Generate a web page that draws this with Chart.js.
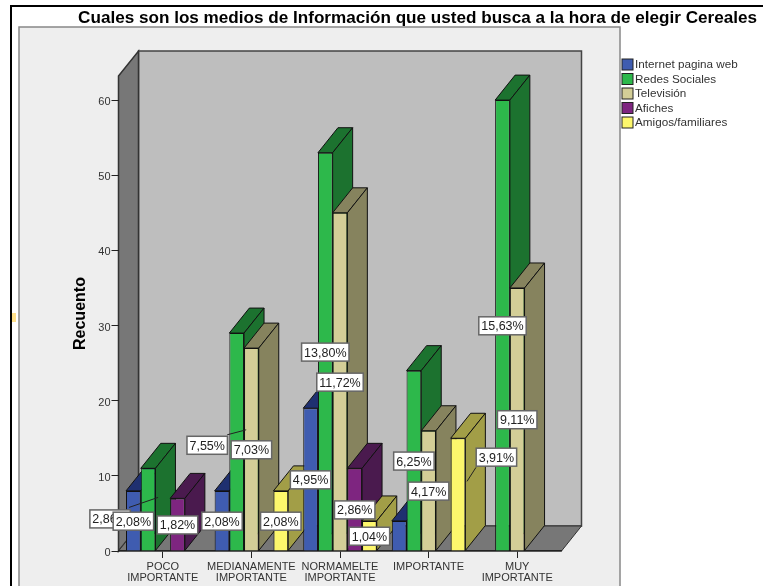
<!DOCTYPE html>
<html>
<head>
<meta charset="utf-8">
<script src="https://cdn.jsdelivr.net/npm/chart.js@4"></script>
<style>
    html, body { margin: 0; padding: 0; background: #fff; overflow: hidden; }
    canvas { display: block; }
</style>
</head>
<body>
<canvas id="chart-canvas" width="763" height="586"></canvas>
<script>
const categories = [['POCO', 'IMPORTANTE'], ['MEDIANAMENTE', 'IMPORTANTE'], ['NORMAMELTE', 'IMPORTANTE'], 'IMPORTANTE', ['MUY', 'IMPORTANTE']];
const seriesNames = ['Internet pagina web', 'Redes Sociales', 'Televisión', 'Afiches', 'Amigos/familiares'];

const internetValues = [8, 8, 19, 4, null];
const redesValues = [11, 29, 53, 24, 60];
const televisionValues = [null, 27, 45, 16, 35];
const afichesValues = [7, null, 11, null, null];
const amigosValues = [null, 8, 4, 15, null];

// percent boxes, same order as the values above
const internetPct = ['2,08%', '2,08%', '4,95%', null, null];
const redesPct = ['2,86%', '7,55%', '13,80%', '6,25%', '15,63%'];
const televisionPct = [null, '7,03%', '11,72%', '4,17%', '9,11%'];
const afichesPct = ['1,82%', null, '2,86%', null, null];
const amigosPct = [null, '2,08%', '1,04%', '3,91%', null];

const frontColors = ['#3F5CB0', '#2DB84B', '#D3CE97', '#7E2580', '#FDF76C'];
const sideColors = ['#1F3070', '#1C722F', '#86835E', '#4A1A4E', '#A29E47'];

const yTicks = [0, 10, 20, 30, 40, 50, 60];

const allValues = [internetValues, redesValues, televisionValues, afichesValues, amigosValues];
const allPct = [internetPct, redesPct, televisionPct, afichesPct, amigosPct];

// depth of the fake 3D box, pixels
const DEPTH_X = 20;
const DEPTH_Y = -25;
const FONT = '"Liberation Sans", Arial, sans-serif';

// boxes that SPSS moved away from the bar centre (key is series:category)
const movedLabels = {
    '1:0': { dx: -38, dy: 9, lead: [-19, -2, 10, -12] },
    '1:1': { dx: -29.5, dy: 3, lead: [-9.5, -7, 9.5, -12] },
    '4:3': { dx: 38.4, dy: -37.7, lead: [18, -27, 9, -13] }
};

function polygon(ctx, pts, fill, stroke, width) {
    ctx.beginPath();
    pts.forEach((p, i) => i ? ctx.lineTo(p[0], p[1]) : ctx.moveTo(p[0], p[1]));
    ctx.closePath();
    ctx.fillStyle = fill;
    ctx.fill();
    ctx.strokeStyle = stroke;
    ctx.lineWidth = width;
    ctx.stroke();
}

const box3d = {
    id: 'box3d',
    afterLayout(chart) {
        // title runs past the plot, up to the right edge of the picture
        chart.titleBlock.left = 0;
        chart.titleBlock.right = 757;
    },
    beforeDraw(chart) {
        const ctx = chart.ctx;
        const { left, right, top, bottom } = chart.chartArea;
        ctx.save();
        ctx.fillStyle = '#fff';
        ctx.fillRect(0, 0, chart.width, chart.height);

        // outer frame
        ctx.fillStyle = '#000';
        ctx.fillRect(10, 5, chart.width - 10, 2);
        ctx.fillRect(10, 5, 2, chart.height - 5);

        // small yellow mark on the frame, it is in the screenshot
        ctx.fillStyle = '#FFE08A';
        ctx.fillRect(12, 313, 4, 9);

        // grey panel, runs off the bottom of the picture
        ctx.fillStyle = '#EEEEEE';
        ctx.fillRect(19, 27, 601, chart.height);
        ctx.strokeStyle = '#888';
        ctx.lineWidth = 1.5;
        ctx.strokeRect(19, 27, 601, chart.height);

        // back wall, left wall and floor
        polygon(ctx, [[left + DEPTH_X, top + DEPTH_Y], [right + DEPTH_X, top + DEPTH_Y], [right + DEPTH_X, bottom + DEPTH_Y], [left + DEPTH_X, bottom + DEPTH_Y]], '#BEBEBE', '#444', 1.5);
        polygon(ctx, [[left, top], [left + DEPTH_X, top + DEPTH_Y], [left + DEPTH_X, bottom + DEPTH_Y], [left, bottom]], '#777777', '#333', 1.5);
        polygon(ctx, [[left, bottom], [left + DEPTH_X, bottom + DEPTH_Y], [right + DEPTH_X, bottom + DEPTH_Y], [right, bottom]], '#777777', '#333', 1);
        ctx.restore();
    },
    beforeDatasetsDraw(chart) {
        const ctx = chart.ctx;
        ctx.save();
        // paint left to right so each bar hides the side of the one before
        categories.forEach((cat, c) => {
            chart.data.datasets.forEach((ds, s) => {
                if (ds.data[c] === null) return;
                const el = chart.getDatasetMeta(s).data[c];
                const x0 = el.x - el.width / 2;
                const x1 = el.x + el.width / 2;
                polygon(ctx, [[x0, el.y], [x0 + DEPTH_X, el.y + DEPTH_Y], [x1 + DEPTH_X, el.y + DEPTH_Y], [x1, el.y]], sideColors[s], '#111', 1);
                polygon(ctx, [[x1, el.y], [x1 + DEPTH_X, el.y + DEPTH_Y], [x1 + DEPTH_X, el.base + DEPTH_Y], [x1, el.base]], sideColors[s], '#111', 1);
                el.draw(ctx);
            });
        });
        ctx.restore();
        return false;
    },
    afterDraw(chart) {
        const ctx = chart.ctx;
        ctx.save();
        ctx.font = '12.5px ' + FONT;
        ctx.textAlign = 'center';
        ctx.textBaseline = 'middle';
        categories.forEach((cat, c) => {
            for (let s = allPct.length - 1; s >= 0; s--) {
                const text = allPct[s][c];
                if (!text) continue;
                const center = chart.getDatasetMeta(s).data[c].getCenterPoint();
                const moved = movedLabels[s + ':' + c];
                const cx = center.x + (moved ? moved.dx : 0);
                const cy = center.y + 0.5 + (moved ? moved.dy : 0);
                if (moved) {
                    ctx.strokeStyle = '#222';
                    ctx.lineWidth = 1;
                    ctx.beginPath();
                    ctx.moveTo(center.x + moved.lead[0], center.y + moved.lead[1]);
                    ctx.lineTo(center.x + moved.lead[2], center.y + moved.lead[3]);
                    ctx.stroke();
                }
                const w = ctx.measureText(text).width + 5;
                ctx.fillStyle = '#fff';
                ctx.fillRect(cx - w / 2, cy - 9, w, 18);
                ctx.strokeStyle = '#666';
                ctx.lineWidth = 1.5;
                ctx.strokeRect(cx - w / 2, cy - 9, w, 18);
                ctx.fillStyle = '#222';
                ctx.fillText(text, cx, cy + 1);
            }
        });

        // legend on the right, stays out of the layout
        ctx.font = '11.7px ' + FONT;
        ctx.textAlign = 'left';
        seriesNames.forEach((name, i) => {
            const y = 59 + i * 14.5;
            ctx.fillStyle = frontColors[i];
            ctx.fillRect(622, y, 11, 11);
            ctx.strokeStyle = '#222';
            ctx.lineWidth = 1;
            ctx.strokeRect(622, y, 11, 11);
            ctx.fillStyle = '#333';
            ctx.fillText(name, 635, y + 6);
        });
        ctx.restore();
    }
};

new Chart(document.getElementById('chart-canvas'), {
    type: 'bar',
    data: {
        labels: categories,
        datasets: seriesNames.map((name, i) => ({
            label: name,
            data: allValues[i],
            backgroundColor: frontColors[i],
            borderColor: '#111',
            borderWidth: 1,
            categoryPercentage: 0.83,
            barPercentage: 1
        }))
    },
    options: {
        responsive: false,
        animation: false,
        events: [],
        layout: { padding: { left: 0, right: 201.5, top: 0, bottom: 0 } },
        plugins: {
            legend: { display: false },
            tooltip: { enabled: false },
            title: {
                display: true,
                text: 'Cuales son los medios de Información que usted busca a la hora de elegir Cereales',
                align: 'end',
                color: '#000',
                font: { family: FONT, size: 17.13, weight: 'bold' },
                padding: { top: 8, bottom: 47.5 }
            }
        },
        scales: {
            x: {
                grid: { display: true, drawOnChartArea: false, drawTicks: true, tickLength: 7, color: '#222', offset: false },
                border: { display: true, color: '#222', width: 1.5 },
                ticks: {
                    color: '#333',
                    padding: 3,
                    maxRotation: 0,
                    autoSkip: false,
                    font: { family: FONT, size: 11, lineHeight: 1 }
                },
                afterFit(scale) { scale.height = 35; }
            },
            y: {
                min: 0,
                max: 63.2,
                grid: { drawOnChartArea: false, tickLength: 7, color: '#222' },
                border: { display: false },
                ticks: {
                    color: '#333',
                    padding: 1,
                    includeBounds: false,
                    stepSize: yTicks[1] - yTicks[0],
                    // empty first line pushes the number 2px under its tick, as in the picture
                    callback: value => ['', String(value)],
                    font: { family: FONT, size: 11, lineHeight: '4px' }
                },
                title: {
                    display: true,
                    text: 'Recuento',
                    color: '#000',
                    padding: { top: 71, bottom: 0 },
                    font: { family: FONT, size: 16, weight: 'bold' }
                },
                afterFit(scale) { scale.width = 118.5; }
            }
        }
    },
    plugins: [box3d]
});
</script>
</body>
</html>
